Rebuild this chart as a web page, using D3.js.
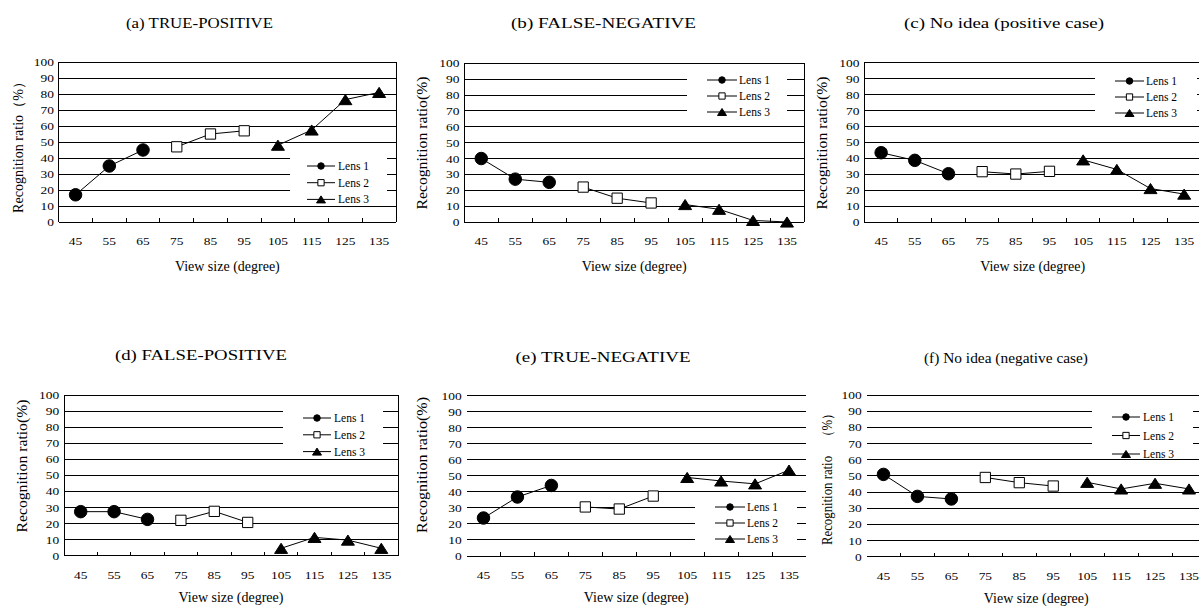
<!DOCTYPE html>
<head>
    <meta charset="utf-8">
    <script src="https://cdn.jsdelivr.net/npm/d3@7/dist/d3.min.js"></script>
    <title>Recognition ratio</title>
    <style>
        body { margin: 0; background: #fff; }
        svg text { font-family: "Liberation Serif", "Times New Roman", serif; fill: #000; }
        .grid { stroke: #000; stroke-width: 1; shape-rendering: crispEdges; }
        .link { fill: none; stroke: #000; stroke-width: 1; }
    </style>
</head>

<body>
    <svg id="chart" width="1199" height="606"></svg>
    <script>

        // view size categories (degree) and which lens each one belongs to
        viewSizes = [45, 55, 65, 75, 85, 95, 105, 115, 125, 135]
        lensNames = ["Lens 1", "Lens 2", "Lens 3"]
        lensOf = [0, 0, 0, 1, 1, 1, 2, 2, 2, 2]
        yTicks = [0, 10, 20, 30, 40, 50, 60, 70, 80, 90, 100]

        // recognition ratio (%)
        truePositive = [17, 35, 45, 47, 55, 57, 48, 57.5, 76.5, 81]
        falseNegative = [40, 27, 25, 22, 15, 12, 11, 8, 1, 0]
        noIdeaPositive = [43.5, 38.7, 30.3, 31.6, 30.1, 31.8, 39, 33, 21, 17.5]
        falsePositive = [27.4, 27.4, 22.6, 22, 27.6, 20.7, 4.6, 11.4, 9.7, 4.6]
        trueNegative = [23.7, 36.8, 44, 30.6, 29.3, 37.4, 49, 46.8, 45, 53.6]
        noIdeaNegative = [50.9, 37.3, 35.7, 49, 45.8, 43.7, 46, 41.9, 45.4, 41.9]

        titles = ["(a) TRUE-POSITIVE", "(b) FALSE-NEGATIVE", "(c) No idea (positive case)",
            "(d) FALSE-POSITIVE", "(e) TRUE-NEGATIVE", "(f) No idea (negative case)"]
        yLabels = ["Recognition ratio（%）", "Recognition ratio(%)", "Recognition ratio(%)",
            "Recognition ratio(%)", "Recognition ratio(%)", "Recognition ratio　（%）"]
        xLabel = "View size (degree)"
        series = [truePositive, falseNegative, noIdeaPositive, falsePositive, trueNegative, noIdeaNegative]

        // layout of each panel (pixels)
        layout = [
            { left: 58.7, right: 396, top: 62, bottom: 222, frame: true, tx: 199.5, ty: 28, tw: 147, lx: 23, ly: 144, lw: 138, xl: 49,
              leg: { x0: 290, x1: 387, y0: 152, y1: 200, row: 166, dy: 16.7, l0: 307, l1: 335, t: 338 } },
            { left: 464.3, right: 804, top: 63.3, bottom: 222, frame: true, tx: 603.5, ty: 28, tw: 185, lx: 427, ly: 143, lw: 133, xl: 49,
              leg: { x0: 687, x1: 787, y0: 72, y1: 120, row: 80, dy: 16, l0: 707, l1: 737, t: 739 } },
            { left: 864.3, right: 1201, top: 62.7, bottom: 222, frame: true, tx: 1004, ty: 28, tw: 200, lx: 827, ly: 143, lw: 133, xl: 49,
              leg: { x0: 1095, x1: 1197, y0: 72, y1: 120, row: 81, dy: 16, l0: 1115, l1: 1144, t: 1146 } },
            { left: 64, right: 398, top: 395, bottom: 555.7, frame: true, tx: 201, ty: 360, tw: 172, lx: 27, ly: 466, lw: 133, xl: 46,
              leg: { x0: 283, x1: 383, y0: 404, y1: 452, row: 418, dy: 16.8, l0: 303, l1: 331, t: 334 } },
            { left: 466.5, right: 806, top: 395.7, bottom: 556, frame: false, tx: 603, ty: 361.5, tw: 175, lx: 427, ly: 465, lw: 136, xl: 46,
              leg: { x0: 695, x1: 797, y0: 502, y1: 546, row: 507, dy: 16, l0: 715, l1: 745, t: 747 } },
            { left: 866.5, right: 1206, top: 395, bottom: 556.7, frame: false, tx: 1006, ty: 363, tw: 164, lx: 832, ly: 476, lw: 138, xl: 46,
              leg: { x0: 1092, x1: 1193, y0: 405, y1: 452, row: 417, dy: 18.5, l0: 1112, l1: 1140, t: 1143 } }
        ]

        var svg = d3.select("#chart")

        svg.append("rect").attr("width", 1199).attr("height", 606).attr("fill", "#fff")

        // marker path for each lens, w = overall size
        function markerPath(lens, w) {
            if (lens == 0) return d3.symbol(d3.symbolCircle, Math.PI * (w / 2) * (w / 2))()
            if (lens == 1) return d3.symbol(d3.symbolSquare, w * w * 0.8)()
            var h = w * 0.78
            return `M0,${-h / 2}L${w / 2},${h / 2}L${-w / 2},${h / 2}Z`
        }

        function markerFill(lens) { return lens == 1 ? "#fff" : "#000" }

        drawPanel = function (i) {
            var L = layout[i]
            var values = series[i]
            var g = svg.append("g")

            var x = d3.scaleBand().domain(viewSizes).range([L.left, L.right])
            var y = d3.scaleLinear().domain([0, 100]).range([L.bottom, L.top])
            var half = x.bandwidth() / 2

            // horizontal grid lines
            g.append("g").selectAll("line")
                .data(yTicks)
                .enter().append("line")
                .attr("class", "grid")
                .attr("x1", L.left).attr("x2", L.right)
                .attr("y1", d => y(d)).attr("y2", d => y(d))

            if (L.frame) {
                g.append("line").attr("class", "grid")
                    .attr("x1", L.left).attr("x2", L.left).attr("y1", y(0)).attr("y2", y(100))
                g.append("line").attr("class", "grid")
                    .attr("x1", L.right).attr("x2", L.right).attr("y1", y(0)).attr("y2", y(100))
            }

            // small ticks between categories, pointing up
            g.append("g").selectAll("line")
                .data(viewSizes.slice(1))
                .enter().append("line")
                .attr("class", "grid")
                .attr("x1", d => x(d)).attr("x2", d => x(d))
                .attr("y1", y(0)).attr("y2", y(0) - 4)

            // y axis labels
            var yAxis = g.append("g")
                .attr("transform", `translate(${L.left},0)`)
                .call(d3.axisLeft(y).tickValues(yTicks).tickSize(0).tickPadding(4))
            yAxis.select(".domain").remove()
            yAxis.selectAll("text")
                .attr("font-size", 11)
                .attr("transform", "scale(1.22,1)")

            // x axis labels
            var xAxis = g.append("g")
                .attr("transform", `translate(0,${L.bottom})`)
                .call(d3.axisBottom(x).tickSize(0).tickPadding(15))
            xAxis.select(".domain").remove()
            xAxis.selectAll("text")
                .attr("font-size", 11)
                .attr("transform", "scale(1.22,1)")

            // titles
            g.append("text")
                .attr("x", L.tx).attr("y", L.ty)
                .attr("text-anchor", "middle")
                .attr("font-size", 15.5)
                .attr("textLength", L.tw)
                .attr("lengthAdjust", "spacingAndGlyphs")
                .text(titles[i])

            g.append("text")
                .attr("transform", `translate(${L.lx},${L.ly}) rotate(-90)`)
                .attr("text-anchor", "middle")
                .attr("font-size", 14)
                .attr("textLength", L.lw)
                .attr("lengthAdjust", "spacingAndGlyphs")
                .text(yLabels[i])

            g.append("text")
                .attr("x", (L.left + L.right) / 2)
                .attr("y", L.bottom + L.xl)
                .attr("text-anchor", "middle")
                .attr("font-size", 14)
                .text(xLabel)

            // lines and markers, one group per lens
            var points = viewSizes.map((v, j) => ({ size: v, value: values[j], lens: lensOf[j] }))
            var line = d3.line().x(d => x(d.size) + half).y(d => y(d.value))

            lensNames.forEach(function (name, k) {
                g.append("path")
                    .attr("class", "link")
                    .attr("d", line(points.filter(d => d.lens == k)))
            })

            g.append("g").selectAll("path")
                .data(points)
                .enter().append("path")
                .attr("transform", d => `translate(${x(d.size) + half},${y(d.value)})`)
                .attr("d", d => markerPath(d.lens, d.lens == 2 ? 13 : d.lens == 1 ? 11.5 : 12.5))
                .attr("fill", d => markerFill(d.lens))
                .attr("stroke", "#000")
                .attr("stroke-width", 1)

            // legend
            var leg = L.leg
            var lg = g.append("g")
            lg.append("rect")
                .attr("x", leg.x0).attr("y", leg.y0)
                .attr("width", leg.x1 - leg.x0).attr("height", leg.y1 - leg.y0)
                .attr("fill", "#fff")

            lensNames.forEach(function (name, k) {
                var ry = leg.row + k * leg.dy
                lg.append("line")
                    .attr("x1", leg.l0).attr("x2", leg.l1)
                    .attr("y1", ry).attr("y2", ry)
                    .attr("stroke", "#000")
                lg.append("path")
                    .attr("transform", `translate(${(leg.l0 + leg.l1) / 2},${ry})`)
                    .attr("d", markerPath(k, k == 2 ? 9 : k == 1 ? 7 : 6.5))
                    .attr("fill", markerFill(k))
                    .attr("stroke", "#000")
                lg.append("text")
                    .attr("x", leg.t).attr("y", ry + 4)
                    .attr("font-size", 11.5)
                    .text(name)
            })
        }

        for (var i = 0; i < 6; i++) drawPanel(i)

    </script>
</body>
